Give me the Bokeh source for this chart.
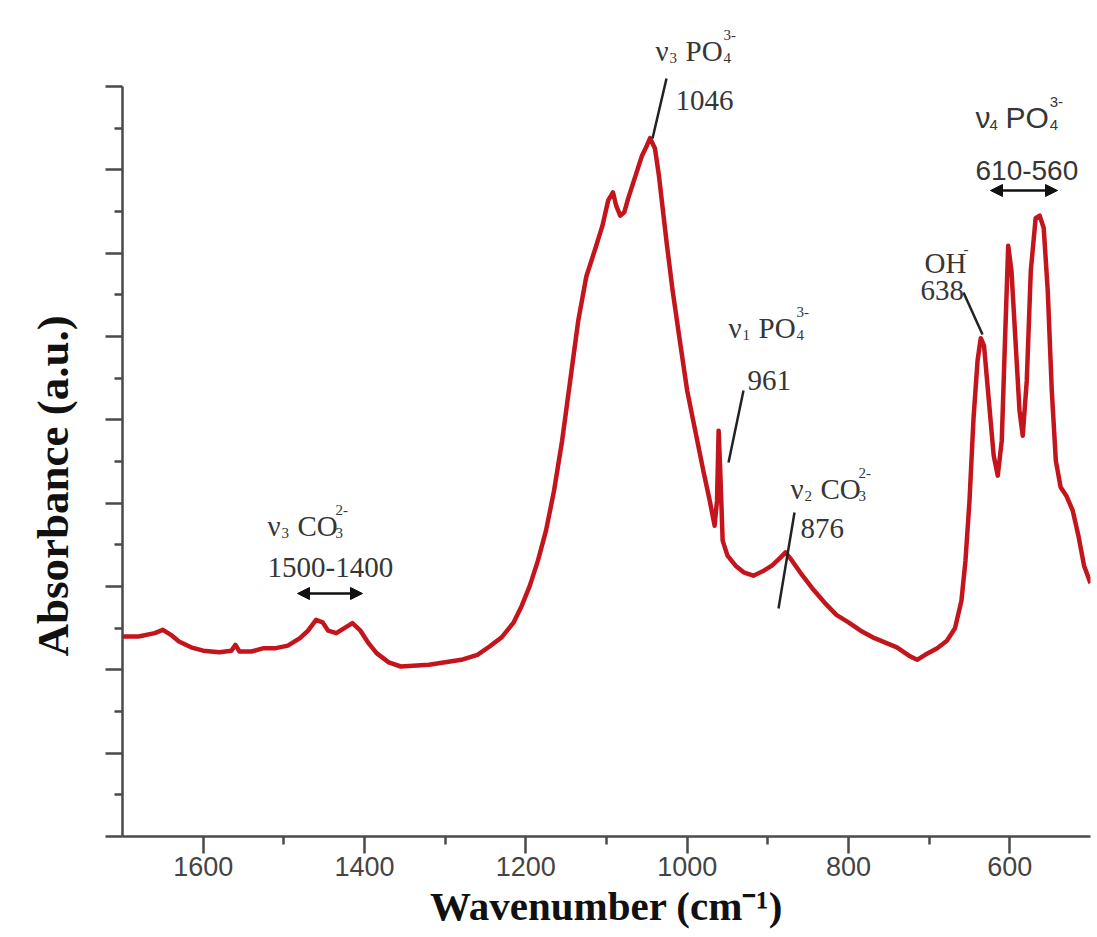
from bokeh.plotting import figure
from bokeh.models import Range1d, FixedTicker, Label, Arrow, NormalHead, CustomJSTickFormatter, Title
from bokeh.embed import file_html
from bokeh.resources import INLINE

# ---------------- data ----------------
wavenumber = [1700, 1680, 1660, 1650, 1640, 1630, 1615, 1600, 1580, 1565, 1560, 1555,
              1540, 1525, 1510, 1495, 1480, 1470, 1460, 1452, 1445, 1435, 1425, 1415,
              1405, 1395, 1385, 1370, 1355, 1340, 1320, 1300, 1280, 1260, 1245, 1230,
              1215, 1205, 1195, 1185, 1175, 1165, 1155, 1145, 1135, 1125, 1115, 1105,
              1098, 1092, 1088, 1083, 1078, 1073, 1068, 1062, 1056, 1050, 1046, 1040,
              1035, 1030, 1025, 1018, 1010, 1000, 990, 980, 972, 966, 963, 961, 959,
              956, 950, 940, 930, 918, 905, 895, 885, 878, 870, 860, 845, 830, 815,
              800, 785, 770, 755, 740, 725, 715, 705, 690, 678, 668, 660, 655, 650,
              645, 640, 636, 632, 626, 620, 615, 610, 606, 602, 598, 593, 588, 584,
              579, 574, 568, 563, 558, 553, 548, 543, 537, 530, 522, 515, 508, 500]
absorbance = [2.40, 2.40, 2.44, 2.48, 2.42, 2.34, 2.27, 2.23, 2.21, 2.23, 2.30, 2.22,
              2.22, 2.26, 2.26, 2.29, 2.38, 2.47, 2.60, 2.57, 2.47, 2.44, 2.50, 2.56,
              2.47, 2.32, 2.20, 2.09, 2.04, 2.05, 2.06, 2.09, 2.12, 2.18, 2.28, 2.39,
              2.57, 2.77, 3.01, 3.31, 3.67, 4.15, 4.75, 5.47, 6.19, 6.72, 7.02, 7.33,
              7.63, 7.73, 7.57, 7.45, 7.49, 7.66, 7.81, 7.99, 8.17, 8.29, 8.38, 8.26,
              7.93, 7.51, 7.09, 6.55, 6.01, 5.35, 4.87, 4.39, 4.03, 3.73, 4.03, 4.87, 4.39,
              3.55, 3.37, 3.25, 3.17, 3.13, 3.19, 3.25, 3.34, 3.41, 3.31, 3.17, 2.98, 2.81, 2.66,
              2.57, 2.47, 2.39, 2.33, 2.27, 2.17, 2.12, 2.18, 2.26, 2.35, 2.50, 2.83, 3.31, 4.03,
              5.02, 5.71, 5.98, 5.89, 5.23, 4.57, 4.33, 4.75, 5.95, 7.09, 6.79, 5.95, 5.11, 4.81,
              5.47, 6.79, 7.42, 7.45, 7.30, 6.55, 5.35, 4.51, 4.19, 4.09, 3.91, 3.61, 3.25, 3.04]

x_major_ticks = [600, 800, 1000, 1200, 1400, 1600]
x_minor_ticks = [700, 900, 1100, 1300, 1500]
y_major_ticks = [0, 1, 2, 3, 4, 5, 6, 7, 8, 9]
y_minor_ticks = [0.5, 1.5, 2.5, 3.5, 4.5, 5.5, 6.5, 7.5, 8.5]

x_title = "Wavenumber (cm⁻¹)"
y_title = "Absorbance (a.u.)"

# ---------------- layout ----------------
X_START, X_END = 1700, 500
Y_AXIS_MAX = 9
W, H = 1092, 935
BL, BT, BR = 122, 0, 2
FW = W - BL - BR          # 968
FH = 836                   # frame from top of page to x axis
YS = 750 / Y_AXIS_MAX      # px per unit on the y axis
Y_END = FH / YS

p = figure(width=W, height=H, output_backend="svg", toolbar_location=None,
           x_range=Range1d(X_START, X_END), y_range=Range1d(0, Y_END),
           min_border_left=BL, min_border_top=BT, min_border_right=BR,
           min_border_bottom=H - BT - FH)
p.outline_line_color = None
p.xgrid.visible = False
p.ygrid.visible = False
p.background_fill_color = "white"
p.border_fill_color = "white"

AX = "#4a4a4a"
for ax in (p.xaxis, p.yaxis):
    ax.axis_line_color = AX
    ax.axis_line_width = 2.5
    ax.major_tick_line_color = AX
    ax.minor_tick_line_color = AX
    ax.major_tick_line_width = 2.5
    ax.minor_tick_line_width = 2.5
    ax.major_tick_in = 0
    ax.major_tick_out = 17
    ax.minor_tick_in = 0
    ax.minor_tick_out = 8
    ax.axis_label_text_font = "Liberation Serif"
    ax.axis_label_text_font_style = "bold"
    ax.axis_label_text_color = "#111111"

p.yaxis.bounds = (0, Y_AXIS_MAX)
p.xaxis.ticker = FixedTicker(ticks=x_major_ticks, minor_ticks=x_minor_ticks)
p.yaxis.ticker = FixedTicker(ticks=y_major_ticks, minor_ticks=y_minor_ticks)
p.xaxis.major_label_text_font = "Liberation Sans"
p.xaxis.major_label_text_font_size = "27px"
p.xaxis.major_label_text_color = "#444444"
p.xaxis.major_label_standoff = 3
p.xaxis.axis_label = x_title
p.xaxis.axis_label_text_font_size = "41px"
p.xaxis.axis_label_standoff = 4
p.yaxis.formatter = CustomJSTickFormatter(code="return ''")
p.yaxis.major_label_standoff = 0

# y title as a left-side title so it can be placed along the axis
p.add_layout(Title(text=y_title, align="left", offset=180, standoff=52,
                   vertical_align="top",
                   text_font="Liberation Serif", text_font_style="bold",
                   text_font_size="45px", text_color="#111111"), "left")

p.line(wavenumber, absorbance, line_color="#c4151c", line_width=4.5, line_join="round")

# page-pixel helpers
PL = BL
PB = BT + FH
XS = FW / (X_START - X_END)


def wx(px):
    return X_START - (px - PL) / XS


def ay(py):
    return (PB - py) / YS


TXT = "#363636"
SERIF = "Liberation Serif"
SANS = "Liberation Sans"


def txt(px, py, s, size, font=SERIF, align="left", style="normal", color=TXT):
    p.add_layout(Label(x=wx(px), y=ay(py), text=s, text_font=font,
                       text_font_size=f"{size}px", text_align=align,
                       text_baseline="alphabetic", text_color=color,
                       text_font_style=style))


def species(px, py, nu_sub, main, sup, sub, font=SERIF, size=29, small=15, gap=30):
    # ν + subscript, then main group with stacked super/subscript
    txt(px, py, "ν", size, font)
    txt(px + 14, py + 7, nu_sub, small, font)
    mw = 0.64 * size * len(main) if font == SERIF else 0.72 * size * len(main)
    txt(px + gap, py, main, size, font)
    if sup:
        txt(px + gap + mw + 1, py - 16, sup, small, font)
    if sub:
        txt(px + gap + mw + 1, py + 7, sub, small, font)


def leader(x0, y0, x1, y1):
    p.segment(x0=[wx(x0)], y0=[ay(y0)], x1=[wx(x1)], y1=[ay(y1)],
              line_color="#222222", line_width=2.5)


def darrow(x0, x1, y):
    p.add_layout(Arrow(x_start=wx(x0), y_start=ay(y), x_end=wx(x1), y_end=ay(y),
                       start=NormalHead(size=12, fill_color="#111111", line_color="#111111"),
                       end=NormalHead(size=12, fill_color="#111111", line_color="#111111"),
                       line_color="#111111", line_width=2.5))


# ν3 PO4 3- 1046
species(655, 50, "3", "PO", "3-", "4")
txt(675, 100, "1046", 29)
leader(652, 138, 666, 78)

# ν1 PO4 3- 961
species(728, 327, "1", "PO", "3-", "4")
txt(747, 380, "961", 29)
leader(743, 390, 728, 462)

# ν2 CO3 2- 876
species(790, 488, "2", "CO", "2-", "3")
txt(800, 528, "876", 29)
leader(794, 512, 778, 608)

# ν3 CO3 2- 1500-1400
species(267, 525, "3", "CO", "2-", "3")
txt(267, 567, "1500-1400", 29)
darrow(297, 362, 593)

# OH- 638
txt(924, 262, "OH", 29)
txt(963, 248, "-", 15)
txt(920, 290, "638", 29)
leader(963, 292, 982, 334)

# ν4 PO4 3- 610-560
species(975, 117, "4", "PO", "3-", "4", font=SANS, size=30, small=15, gap=30)
txt(975, 170, "610-560", 28, font=SANS)
darrow(990, 1057, 190)

open("out.html", "w").write(file_html(p, INLINE))
